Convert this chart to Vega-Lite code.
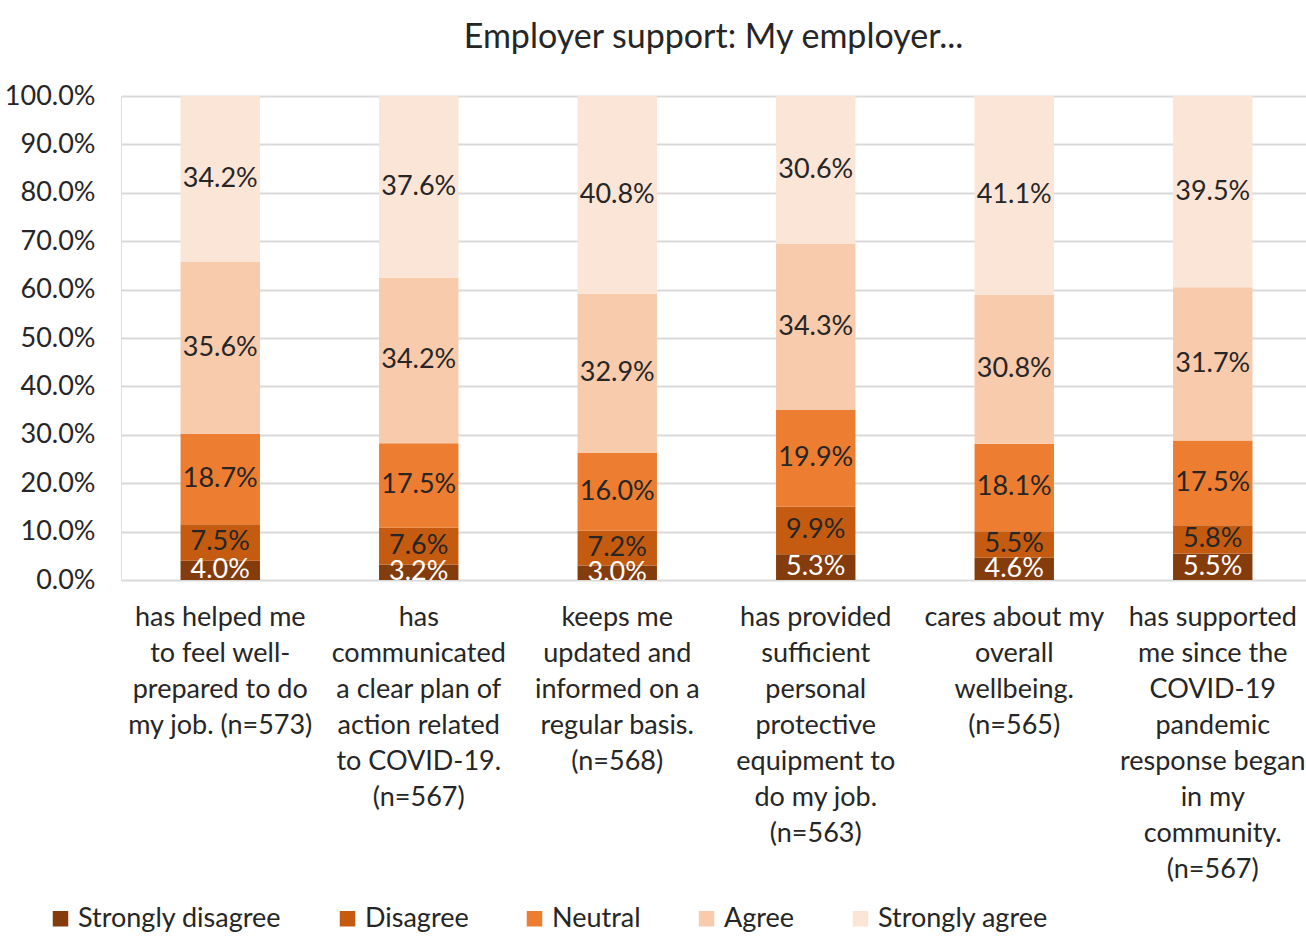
{
  "$schema": "https://vega.github.io/schema/vega-lite/v6.json",
  "width": 1185,
  "height": 484,
  "autosize": "none",
  "padding": {"left": 121, "top": 96, "right": 0, "bottom": 363},
  "background": "white",
  "title": {"text": "Employer support: My employer...", "fontSize": 34, "font": "Lato", "fontWeight": "normal", "color": "#262626", "offset": 27, "anchor": "middle"},
  "datasets": {
    "main": [
      {"item": "has helped me|to feel well-|prepared to do|my job. (n=573)", "level": 1, "response": "Strongly disagree", "value": 0.040},
      {"item": "has helped me|to feel well-|prepared to do|my job. (n=573)", "level": 2, "response": "Disagree", "value": 0.075},
      {"item": "has helped me|to feel well-|prepared to do|my job. (n=573)", "level": 3, "response": "Neutral", "value": 0.187},
      {"item": "has helped me|to feel well-|prepared to do|my job. (n=573)", "level": 4, "response": "Agree", "value": 0.356},
      {"item": "has helped me|to feel well-|prepared to do|my job. (n=573)", "level": 5, "response": "Strongly agree", "value": 0.342},
      {"item": "has|communicated|a clear plan of|action related|to COVID-19.|(n=567)", "level": 1, "response": "Strongly disagree", "value": 0.032},
      {"item": "has|communicated|a clear plan of|action related|to COVID-19.|(n=567)", "level": 2, "response": "Disagree", "value": 0.076},
      {"item": "has|communicated|a clear plan of|action related|to COVID-19.|(n=567)", "level": 3, "response": "Neutral", "value": 0.175},
      {"item": "has|communicated|a clear plan of|action related|to COVID-19.|(n=567)", "level": 4, "response": "Agree", "value": 0.342},
      {"item": "has|communicated|a clear plan of|action related|to COVID-19.|(n=567)", "level": 5, "response": "Strongly agree", "value": 0.376},
      {"item": "keeps me|updated and|informed on a|regular basis.|(n=568)", "level": 1, "response": "Strongly disagree", "value": 0.030},
      {"item": "keeps me|updated and|informed on a|regular basis.|(n=568)", "level": 2, "response": "Disagree", "value": 0.072},
      {"item": "keeps me|updated and|informed on a|regular basis.|(n=568)", "level": 3, "response": "Neutral", "value": 0.160},
      {"item": "keeps me|updated and|informed on a|regular basis.|(n=568)", "level": 4, "response": "Agree", "value": 0.329},
      {"item": "keeps me|updated and|informed on a|regular basis.|(n=568)", "level": 5, "response": "Strongly agree", "value": 0.408},
      {"item": "has provided|sufficient|personal|protective|equipment to|do my job.|(n=563)", "level": 1, "response": "Strongly disagree", "value": 0.053},
      {"item": "has provided|sufficient|personal|protective|equipment to|do my job.|(n=563)", "level": 2, "response": "Disagree", "value": 0.099},
      {"item": "has provided|sufficient|personal|protective|equipment to|do my job.|(n=563)", "level": 3, "response": "Neutral", "value": 0.199},
      {"item": "has provided|sufficient|personal|protective|equipment to|do my job.|(n=563)", "level": 4, "response": "Agree", "value": 0.343},
      {"item": "has provided|sufficient|personal|protective|equipment to|do my job.|(n=563)", "level": 5, "response": "Strongly agree", "value": 0.306},
      {"item": "cares about my|overall|wellbeing.|(n=565)", "level": 1, "response": "Strongly disagree", "value": 0.046},
      {"item": "cares about my|overall|wellbeing.|(n=565)", "level": 2, "response": "Disagree", "value": 0.055},
      {"item": "cares about my|overall|wellbeing.|(n=565)", "level": 3, "response": "Neutral", "value": 0.181},
      {"item": "cares about my|overall|wellbeing.|(n=565)", "level": 4, "response": "Agree", "value": 0.308},
      {"item": "cares about my|overall|wellbeing.|(n=565)", "level": 5, "response": "Strongly agree", "value": 0.411},
      {"item": "has supported|me since the|COVID-19|pandemic|response began|in my|community.|(n=567)", "level": 1, "response": "Strongly disagree", "value": 0.055},
      {"item": "has supported|me since the|COVID-19|pandemic|response began|in my|community.|(n=567)", "level": 2, "response": "Disagree", "value": 0.058},
      {"item": "has supported|me since the|COVID-19|pandemic|response began|in my|community.|(n=567)", "level": 3, "response": "Neutral", "value": 0.175},
      {"item": "has supported|me since the|COVID-19|pandemic|response began|in my|community.|(n=567)", "level": 4, "response": "Agree", "value": 0.317},
      {"item": "has supported|me since the|COVID-19|pandemic|response began|in my|community.|(n=567)", "level": 5, "response": "Strongly agree", "value": 0.395}
    ]
  },
  "data": {"name": "main"},
  "transform": [
    {"stack": "value", "groupby": ["item"], "sort": [{"field": "level", "order": "ascending"}], "offset": "normalize", "as": ["y0", "y1"]},
    {"calculate": "(datum.y0 + datum.y1) / 2", "as": "ymid"}
  ],
  "encoding": {
    "x": {
      "field": "item", "type": "nominal", "sort": null,
      "scale": {"range": [0, 1191], "paddingInner": 0.6, "paddingOuter": 0.3},
      "axis": {
        "title": null, "domain": false, "ticks": false, "labelAngle": 0,
        "labelExpr": "split(datum.label, '|')",
        "labelFont": "Lato", "labelFontSize": 27, "labelColor": "#262626",
        "labelLineHeight": 36, "labelPadding": 24, "labelLimit": 400, "labelBaseline": "top"
      }
    }
  },
  "layer": [
    {
      "mark": {"type": "bar"},
      "encoding": {
        "y": {
          "field": "y0", "type": "quantitative",
          "scale": {"domain": [0, 1], "nice": false},
          "axis": {
            "title": null, "format": ".1%", "values": [0, 0.1, 0.2, 0.3, 0.4, 0.5, 0.6, 0.7, 0.8, 0.9, 1.0],
            "domain": false, "ticks": false, "labelFont": "Lato", "labelFontSize": 27, "labelColor": "#262626",
            "labelPadding": 26, "gridColor": "#d9d9d9", "gridWidth": 2
          }
        },
        "y2": {"field": "y1"},
        "color": {
          "field": "response", "type": "nominal",
          "scale": {
            "domain": ["Strongly disagree", "Disagree", "Neutral", "Agree", "Strongly agree"],
            "range": ["#843c0c", "#c55a11", "#ed7d31", "#f8cbad", "#fbe5d6"]
          },
          "legend": {
            "title": null, "orient": "none", "direction": "horizontal", "legendX": -74, "legendY": 809,
            "symbolType": "square", "symbolSize": 240, "symbolStrokeWidth": 0,
            "labelFont": "Lato", "labelFontSize": 27, "labelColor": "#262626", "labelOffset": 4,
            "columnPadding": 52, "labelLimit": 400
          }
        }
      }
    },
    {
      "mark": {"type": "text", "font": "Lato", "fontSize": 27, "clip": true, "baseline": "middle"},
      "encoding": {
        "y": {"field": "ymid", "type": "quantitative"},
        "text": {"field": "value", "type": "quantitative", "format": ".1%"},
        "color": {"condition": {"test": "datum.level == 1", "value": "white"}, "value": "#262626"}
      }
    }
  ]
}
